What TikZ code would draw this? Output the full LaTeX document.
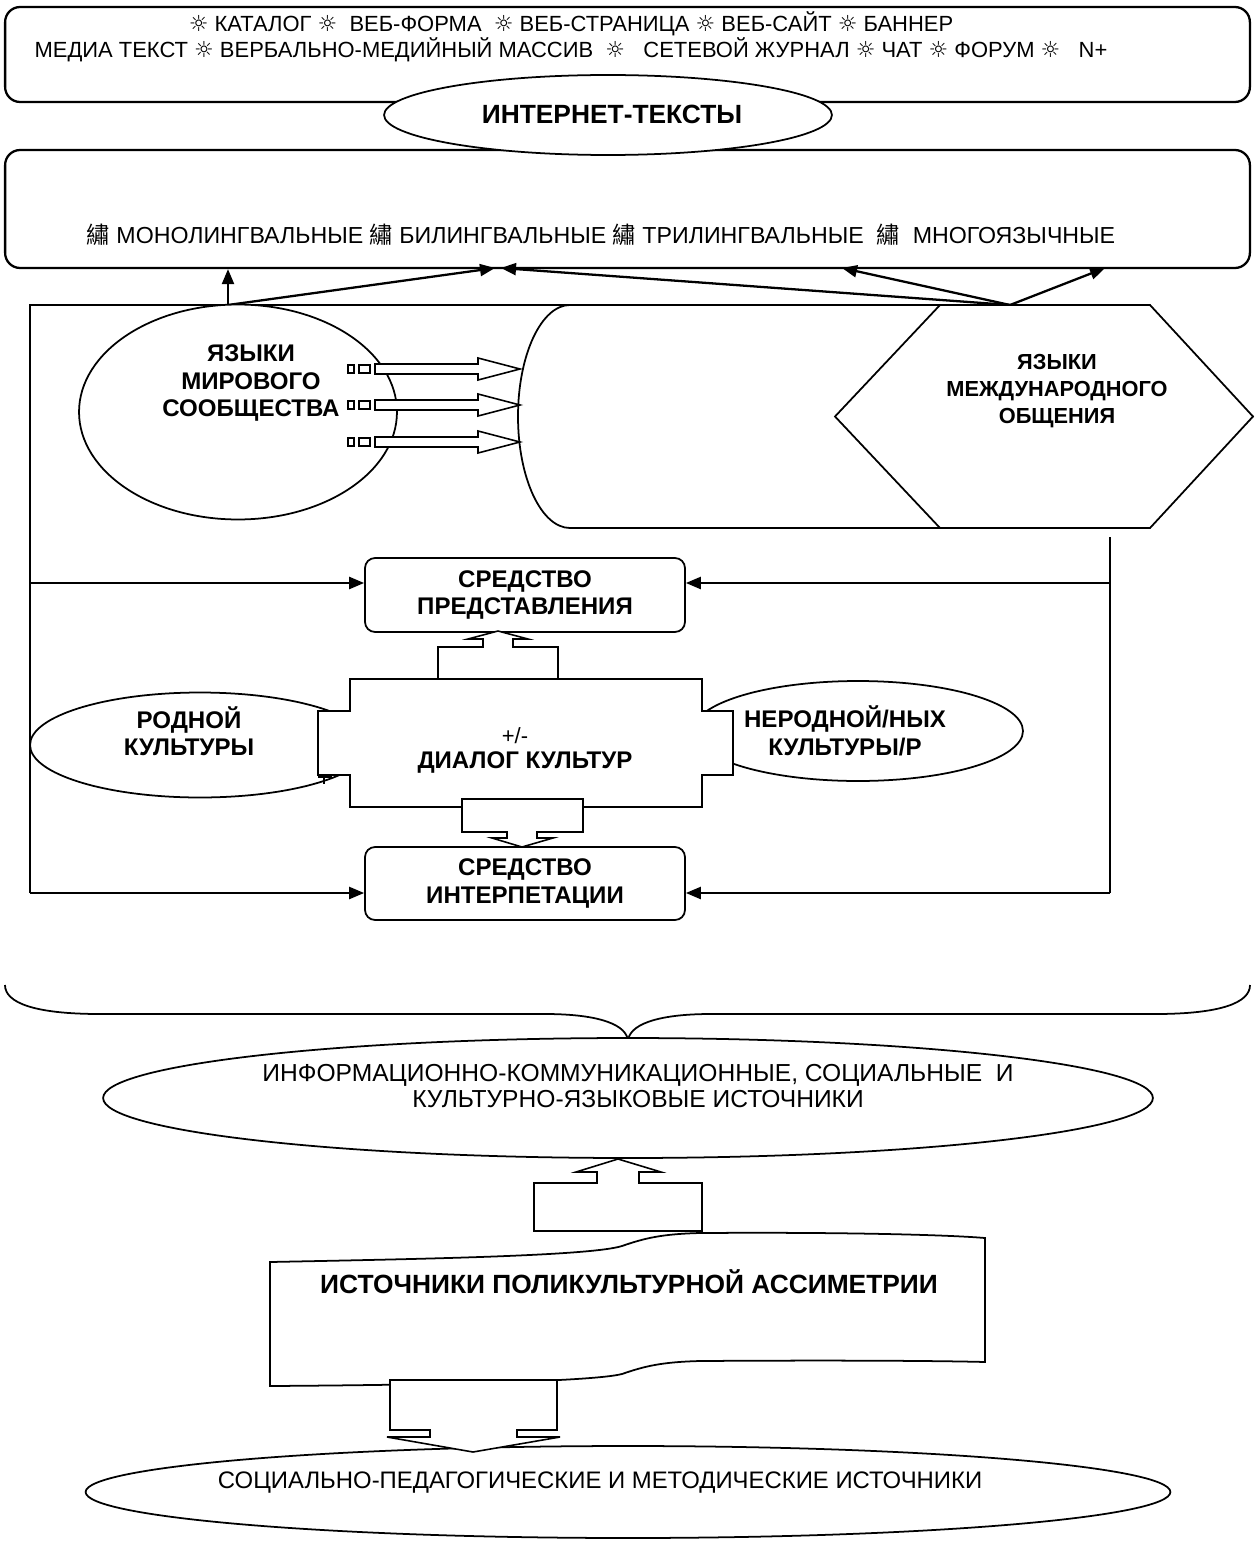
\documentclass[tikz,border=0pt]{standalone}
\usepackage{fontspec}
\setmainfont{Liberation Sans}
\newfontfamily\dejavusym{DejaVu Sans}
\newfontfamily\notocjk{Noto Sans CJK SC}
\usetikzlibrary{arrows.meta,shapes.geometric}
\newcommand\sunmark{{\dejavusym ☼}}
\newcommand\xiumark{{\notocjk 繡}}
\newcommand\regfont{\fontsize{12.5}{14.7}\selectfont}
\newcommand\bandfont{\fontsize{13.2}{15}\selectfont}
\newcommand\srcfont{\fontsize{14}{15.3}\selectfont}
\newcommand\boldfont{\bfseries\fontsize{13.7}{15.6}\selectfont}
\newcommand\hexfont{\bfseries\fontsize{12.4}{15.6}\selectfont}
\newcommand\bigboldfont{\bfseries\fontsize{15}{17}\selectfont}

\begin{document}
\begin{tikzpicture}[x=0.02cm,y=-0.02cm,
  shapeline/.style={draw,line width=1pt,fill=white},
  roundbox/.style={shapeline,line width=1.3pt,rounded corners=0.3cm,inner sep=0pt},
  midbox/.style={shapeline,rounded corners=0.2cm,minimum width=6.4cm,inner sep=0pt,font=\boldfont,align=center},
  oval/.style={shapeline,ellipse,inner sep=0pt},
  btext/.style={font=\boldfont,align=center,inner sep=0pt},
  rtext/.style={font=\regfont,align=center,inner sep=0pt},
  link/.style={line width=1.3pt},
  conn/.style={link,-{Triangle[length=0.3cm,width=0.24cm]}},
  blockarrow/.style={draw,line width=0.9pt,fill=white},
  brace/.style={line width=1pt}]

\useasboundingbox (0,0) rectangle (1255,1544);

% outer frame of the language block
\coordinate (knee) at (228,305);
\coordinate (hub) at (1010,305);
\coordinate (fTL) at (30,305);
\coordinate (fML) at (30,583);
\coordinate (fBL) at (30,893);
\coordinate (fTR) at (1110,537);
\coordinate (fMR) at (1110,583);
\coordinate (fBR) at (1110,893);
\draw[link] (fBL) -- (fTL) -- (hub);
\draw[link] (fTR) -- (fBR);

% genres and language bands
\node[roundbox,minimum width=24.9cm,minimum height=1.9cm] (genres) at (627.5,54.5) {};
\node[rtext] (genrestext) at (571,37) {\sunmark{} КАТАЛОГ \sunmark{}~ ВЕБ-ФОРМА~ \sunmark{} ВЕБ-СТРАНИЦА \sunmark{} ВЕБ-САЙТ \sunmark{} БАННЕР\\
МЕДИА ТЕКСТ \sunmark{} ВЕРБАЛЬНО-МЕДИЙНЫЙ МАССИВ~ \sunmark{}~~ СЕТЕВОЙ ЖУРНАЛ \sunmark{} ЧАТ \sunmark{} ФОРУМ \sunmark{}~~ N+};
\node[roundbox,minimum width=24.9cm,minimum height=2.36cm] (langs) at (627.5,209) {};
\node[rtext,font=\bandfont] (langstext) at (601,235) {\xiumark{} МОНОЛИНГВАЛЬНЫЕ \xiumark{} БИЛИНГВАЛЬНЫЕ \xiumark{} ТРИЛИНГВАЛЬНЫЕ~ \xiumark{}~ МНОГОЯЗЫЧНЫЕ};
\node[oval,minimum width=8.96cm,minimum height=1.6cm] (inet) at (608,115) {};
\node[btext,font=\bigboldfont] (inettext) at (612,114) {ИНТЕРНЕТ-ТЕКСТЫ};

% arrows into the language band
\coordinate (tipA) at (495,268);
\coordinate (tipB) at (501,268);
\coordinate (tipC) at (842,268);
\coordinate (tipD) at (1105,268);
\draw[conn] (knee) -- (knee |- langs.south);
\draw[conn] (knee) -- (tipA);
\draw[conn] (hub) -- (tipB);
\draw[conn] (hub) -- (tipC);
\draw[conn] (hub) -- (tipD);

% cylinder and hexagon
\draw[shapeline] (1100,305) -- (570,305) .. controls (541.3,305) and (518,354.9) .. (518,416.5)
  .. controls (518,478.1) and (541.3,528) .. (570,528) -- (1100,528) -- cycle;
\draw[shapeline] (835,416.5) -- (940,305) -- (1150,305) -- (1253,416.5) -- (1150,528) -- (940,528) -- cycle;
\node[btext,font=\hexfont] (intl) at (1057,391) {ЯЗЫКИ\\МЕЖДУНАРОДНОГО\\ОБЩЕНИЯ};

% world languages
\node[oval,minimum width=6.36cm,minimum height=4.3cm] (world) at (238,412) {};
\node[btext] (worldtext) at (251,383) {ЯЗЫКИ\\МИРОВОГО\\СООБЩЕСТВА};
\foreach \r in {369,405,442} {
  \draw[line width=0.8pt,fill=white] (348,\r-4) rectangle (354,\r+4);
  \draw[line width=0.8pt,fill=white] (359,\r-4) rectangle (370,\r+4);
  \draw[blockarrow] (375,\r-5) -- (478,\r-5) -- (478,\r-11) -- (520,\r) -- (478,\r+11) -- (478,\r+5) -- (375,\r+5) -- cycle;
}

% means of presentation and interpretation
\node[midbox,minimum height=1.48cm] (present) at (525,595) {СРЕДСТВО\\ПРЕДСТАВЛЕНИЯ};
\node[midbox,minimum height=1.46cm] (interp) at (525,883.5) {СРЕДСТВО\\ИНТЕРПЕТАЦИИ};
\draw[conn] (fML) -- (present.west |- fML);
\draw[conn] (fMR) -- (present.east |- fMR);
\draw[conn] (fBL) -- (interp.west |- fBL);
\draw[conn] (fBR) -- (interp.east |- fBR);

% cultures
\node[oval,minimum width=6.8cm,minimum height=2.1cm] (native) at (200,745) {};
\node[btext] (nativetext) at (189,731) {РОДНОЙ\\КУЛЬТУРЫ};
\node[oval,minimum width=6.6cm,minimum height=2cm] (foreign) at (858,731) {};
\node[btext] (foreigntext) at (845,731) {НЕРОДНОЙ/НЫХ\\КУЛЬТУРЫ/Р};

% dialogue of cultures
\draw[shapeline] (350,679) -- (702,679) -- (702,711) -- (733,711) -- (733,775) -- (702,775) -- (702,807)
  -- (350,807) -- (350,775) -- (318,775) -- (318,711) -- (350,711) -- cycle;
\node[rtext] (plusminus) at (515,736) {+/-};
\node[btext] (dialog) at (525,762) {ДИАЛОГ КУЛЬТУР};
\fill (318,774) rectangle (332,778);
\draw[line width=0.8pt] (324,778) -- (324,784);
\draw[blockarrow] (438,679) -- (438,647) -- (483,647) -- (483,639) -- (468,639) -- (498,631)
  -- (528,639) -- (513,639) -- (513,647) -- (558,647) -- (558,679) -- cycle;
\draw[blockarrow] (462,799) -- (583,799) -- (583,832) -- (537,832) -- (537,838) -- (553,838)
  -- (522,847) -- (492,838) -- (507,838) -- (507,832) -- (462,832) -- cycle;

% brace
\draw[brace] (5,985) .. controls (5,1003) and (35,1014) .. (100,1014) -- (545,1014)
  .. controls (600,1014) and (628,1025) .. (628,1042)
  .. controls (628,1025) and (656,1014) .. (711,1014) -- (1155,1014)
  .. controls (1220,1014) and (1250,1003) .. (1250,985);

% sources
\node[oval,minimum width=21cm,minimum height=2.4cm] (infosrc) at (628,1098) {};
\node[rtext,font=\srcfont] (infotext) at (638,1086) {ИНФОРМАЦИОННО-КОММУНИКАЦИОННЫЕ, СОЦИАЛЬНЫЕ~ И\\КУЛЬТУРНО-ЯЗЫКОВЫЕ ИСТОЧНИКИ};
\draw[blockarrow] (534,1231) -- (534,1183) -- (597,1183) -- (597,1172) -- (576,1172) -- (618,1159)
  -- (661,1172) -- (639,1172) -- (639,1183) -- (702,1183) -- (702,1231) -- cycle;

\draw[shapeline] (270,1262) .. controls (420,1259) and (590,1256) .. (622,1246)
  .. controls (645,1238) and (662,1234) .. (700,1233)
  .. controls (850,1232) and (950,1235) .. (985,1238) -- (985,1362)
  .. controls (950,1361) and (850,1360) .. (700,1361)
  .. controls (662,1362) and (645,1366) .. (622,1374)
  .. controls (590,1382) and (420,1385) .. (270,1386) -- cycle;
\node[btext,font=\bigboldfont] (asym) at (629,1282) {ИСТОЧНИКИ ПОЛИКУЛЬТУРНОЙ АССИМЕТРИИ};

\node[oval,minimum width=21.7cm,minimum height=1.84cm] (method) at (628,1492) {};
\node[rtext,font=\fontsize{13.6}{15}\selectfont] (methodtext) at (600,1483) {СОЦИАЛЬНО-ПЕДАГОГИЧЕСКИЕ И МЕТОДИЧЕСКИЕ ИСТОЧНИКИ};
\draw[blockarrow] (390,1380) -- (557,1380) -- (557,1430) -- (517,1430) -- (517,1437) -- (560,1437)
  -- (473,1452) -- (387,1437) -- (430,1437) -- (430,1430) -- (390,1430) -- cycle;
\end{tikzpicture}
\end{document}
